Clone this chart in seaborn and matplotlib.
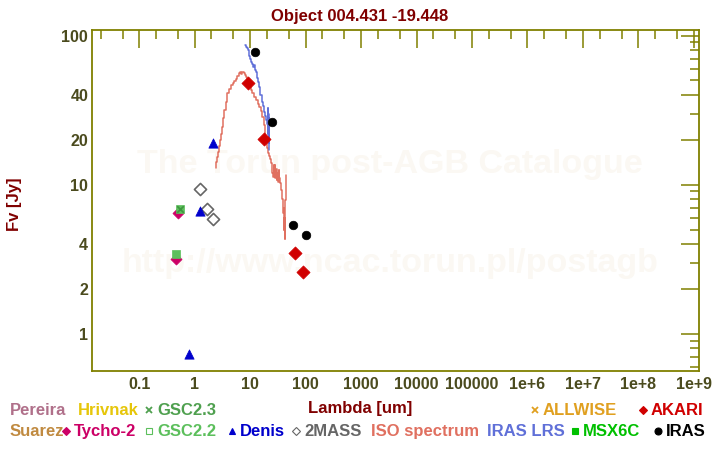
import numpy as np
import pandas as pd
import matplotlib
matplotlib.use("Agg")
import matplotlib.pyplot as plt
import seaborn as sns
from matplotlib.lines import Line2D
from matplotlib.ticker import FixedLocator, NullFormatter

# ─────────────────────────────────────────────
# Data
# ─────────────────────────────────────────────
title = "Object 004.431 -19.448"

iras_wl = [12, 25, 60, 100]
iras_fl = [78.0, 26.2, 5.4, 4.6]

akari_wl = [9, 18, 65, 90]
akari_fl = [48.0, 20.2, 3.5, 2.6]

twomass_wl = [1.25, 1.65, 2.17]
twomass_fl = [9.3, 6.9, 5.9]

denis_wl = [0.79, 1.22, 2.15]
denis_fl = [0.73, 6.7, 19.0]

tycho_wl = [0.45, 0.505]
tycho_fl = [3.18, 6.43]

gsc22_wl = [0.45, 0.55]
gsc22_fl = [3.43, 6.84]

gsc23_wl = [0.55]
gsc23_fl = [6.84]

iso_wl = [2.39, 2.45, 2.55, 2.65, 2.75, 2.86, 3.0, 3.19, 3.35, 3.51, 3.75, 4.03,
          4.3, 4.64, 5.0, 5.3, 5.71, 6.0, 6.37, 6.7, 7.0, 7.4, 7.84, 8.2, 8.65,
          9.2, 9.93, 10.6, 11.4, 12.2, 13.1, 14.0, 15.0, 16.0, 17.3, 18.0, 18.5,
          19.2, 19.9, 20.5, 21.2, 22.0, 23.0, 24.4, 25.2, 26.1, 26.8, 27.5, 28.0,
          29.0, 30.0, 30.5, 31.5, 32.2, 33.1, 34.0, 35.0, 36.0, 37.0, 38.0, 39.0,
          39.6, 40.5, 41.0, 41.5, 42.0, 42.8, 43.4, 44.2]
iso_fl = [13.0, 14.2, 15.4, 16.6, 18.3, 19.9, 22.0, 24.5, 28.0, 31.7, 36.0, 41.0,
          44.0, 46.7, 48.0, 49.5, 50.9, 53.5, 56.4, 57.0, 55.5, 57.0, 56.4, 54.0, 53.1,
          49.0, 45.5, 43.0, 41.0, 39.0, 37.0, 35.0, 33.4, 31.0, 28.6, 25.0, 23.3,
          21.0, 19.9, 17.5, 16.3, 15.5, 14.8, 13.9, 12.0, 11.3, 13.5, 11.5, 13.6,
          11.0, 12.8, 10.8, 12.0, 10.5, 12.6, 11.0, 10.2, 9.6, 9.2, 8.0, 7.5,
          6.5, 7.0, 5.0, 6.0, 4.3, 5.5, 7.9, 11.6]

lrs_wl = [8.17, 8.5, 8.8, 9.25, 9.6, 10.0, 10.35, 10.8, 11.4, 11.8, 12.3, 13.1,
          13.5, 14.0, 14.5, 15.0, 15.5, 16.5, 17.2, 18.0, 18.8, 19.9, 20.5, 20.9,
          21.1, 21.3, 21.5, 21.7, 21.9, 22.1]
lrs_fl = [86.6, 84.0, 82.0, 80.2, 73.0, 70.0, 66.9, 64.5, 62.0, 63.0, 59.0, 57.3,
          52.0, 49.1, 45.5, 42.1, 40.0, 36.1, 33.5, 30.9, 29.0, 27.2, 25.5, 32.7,
          22.0, 30.0, 19.0, 28.0, 18.0, 17.1]

x_major = [0.1, 1, 10, 100, 1e3, 1e4, 1e5, 1e6, 1e7, 1e8, 1e9]
x_labels = ["0.1", "1", "10", "100", "1000", "10000", "100000",
            "1e+6", "1e+7", "1e+8", "1e+9"]
y_major = [1, 2, 4, 10, 20, 40, 100]
y_labels = ["1", "2", "4", "10", "20", "40", "100"]

# legend rows: (text, colour, marker)
legend_row1 = [("Pereira", "#b0708a", None), ("Hrivnak", "#e6c60a", None),
               ("GSC2.3", "#4fa04f", "x"), ("ALLWISE", "#e0a020", "x"),
               ("AKARI", "#d00000", "D")]
legend_row2 = [("Suarez", "#c08a40", None), ("Tycho-2", "#cc0066", "D"),
               ("GSC2.2", "#5cbf5c", "s"), ("Denis", "#0000cc", "^"),
               ("2MASS", "#666666", "D"), ("ISO spectrum", "#e07060", None),
               ("IRAS LRS", "#6070d8", None), ("MSX6C", "#00c000", "s"),
               ("IRAS", "#000000", "o")]

# ─────────────────────────────────────────────
# Style
# ─────────────────────────────────────────────
OLIVE = "#808000"
TICK_TXT = "#4b4b1e"
DARKRED = "#800000"

sns.set_style("white")
plt.rcParams["font.family"] = ["Liberation Sans", "DejaVu Sans"]
plt.rcParams["font.weight"] = "bold"

fig = plt.figure(figsize=(7.2, 4.5), dpi=100)
ax = fig.add_axes([92.3 / 720, 1 - 371.3 / 450, 607 / 720, 341.3 / 450])
ax.set_xscale("log")
ax.set_yscale("log")
ax.set_xlim(0.0142, 1.26e9)
ax.set_ylim(0.56, 109)

# watermark
ax.text(0.49, 0.605, "The Torun post-AGB Catalogue", transform=ax.transAxes,
        ha="center", va="center", fontsize=24.5, color="#fbf8f3", zorder=0)
ax.text(0.49, 0.315, "http://www.ncac.torun.pl/postagb", transform=ax.transAxes,
        ha="center", va="center", fontsize=24.5, color="#fbf8f3", zorder=0)

# spectra
sns.lineplot(x=iso_wl, y=iso_fl, sort=False, estimator=None, color="#e07060",
             lw=1.1, drawstyle="steps-mid", ax=ax)
sns.lineplot(x=lrs_wl, y=lrs_fl, sort=False, estimator=None, color="#6070d8",
             lw=1.1, drawstyle="steps-mid", ax=ax)

# photometry
sns.scatterplot(x=twomass_wl, y=twomass_fl, marker="D", s=38, facecolor="white",
                edgecolor="#666666", linewidth=1.2, ax=ax, zorder=3)
sns.scatterplot(x=tycho_wl, y=tycho_fl, marker="D", s=32, color="#cc0066",
                edgecolor="#cc0066", linewidth=0.5, ax=ax, zorder=3)
sns.scatterplot(x=gsc22_wl, y=gsc22_fl, marker="s", s=38, facecolor="#5cbf5c",
                edgecolor="#5cbf5c", linewidth=0.5, ax=ax, zorder=4)
sns.scatterplot(x=gsc23_wl, y=gsc23_fl, marker="x", s=22, color="#3f963f",
                linewidth=1.2, ax=ax, zorder=5)
sns.scatterplot(x=denis_wl, y=denis_fl, marker="^", s=45, color="#0000cc",
                edgecolor="#0000cc", linewidth=0.5, ax=ax, zorder=3)
sns.scatterplot(x=akari_wl, y=akari_fl, marker="D", s=45, color="#d00000",
                edgecolor="#d00000", linewidth=0.5, ax=ax, zorder=4)
sns.scatterplot(x=iras_wl, y=iras_fl, marker="o", s=38, color="black",
                edgecolor="black", linewidth=0.5, ax=ax, zorder=4)

# ticks
x_minor = [m * d for d in [0.01, 0.1, 1, 10, 100, 1e3, 1e4, 1e5, 1e6, 1e7, 1e8, 1e9]
           for m in (2, 5)]
y_minor = [m * d for d in [0.1, 1, 10, 100] for m in range(1, 10)
           if round(m * d, 6) not in y_major]
ax.xaxis.set_major_locator(FixedLocator(x_major))
ax.xaxis.set_minor_locator(FixedLocator(x_minor))
ax.set_xticklabels(x_labels)
ax.xaxis.set_minor_formatter(NullFormatter())
ax.yaxis.set_major_locator(FixedLocator(y_major))
ax.yaxis.set_minor_locator(FixedLocator(y_minor))
ax.set_yticklabels(y_labels)
ax.yaxis.set_minor_formatter(NullFormatter())

ax.tick_params(which="major", direction="in", length=13, width=1.1, color=OLIVE,
               top=True, right=True, labelsize=11.5, labelcolor=TICK_TXT)
ax.tick_params(axis="x", which="major", pad=4)
ax.tick_params(axis="y", which="major", pad=3)
ax.tick_params(which="minor", direction="in", length=6.5, width=1.1, color=OLIVE,
               top=True, right=True)
for sp in ax.spines.values():
    sp.set_color(OLIVE)
    sp.set_linewidth(1.3)
ax.set_xlabel("")
ax.set_ylabel("")

# titles
fig.text(0.5, 1 - 21 / 450, title, ha="center", va="baseline",
         fontsize=12, color=DARKRED)
fig.text(0.5, 1 - 413 / 450, "Lambda [um]", ha="center", va="baseline",
         fontsize=12, color=DARKRED)
fig.text(14 / 720, 1 - 204 / 450, "Fv [Jy]", ha="center", va="center",
         rotation=90, fontsize=12, color=DARKRED)


# legend
def draw_legend_row(items, xs, y_px):
    for (label, color, marker), x_px in zip(items, xs):
        tx = x_px
        if marker is not None:
            fig.add_artist(Line2D([(x_px + 3) / 720], [1 - (y_px - 5) / 450],
                                  marker=marker, ms=5 if marker != "D" else 4.5,
                                  color=color, mew=1.3 if marker == "x" else 0.8,
                                  mfc="white" if label in ("2MASS", "GSC2.2") else color,
                                  mec=color, ls="none", transform=fig.transFigure))
            tx = x_px + 11
        fig.text(tx / 720, 1 - y_px / 450, label, ha="left", va="baseline",
                 fontsize=12, color=color)


draw_legend_row(legend_row1, [10, 78, 146, 532, 640], 415)
draw_legend_row(legend_row2, [10, 63, 146, 229, 293, 371, 487, 572, 655], 436)

fig.savefig("out.png", dpi=100)
